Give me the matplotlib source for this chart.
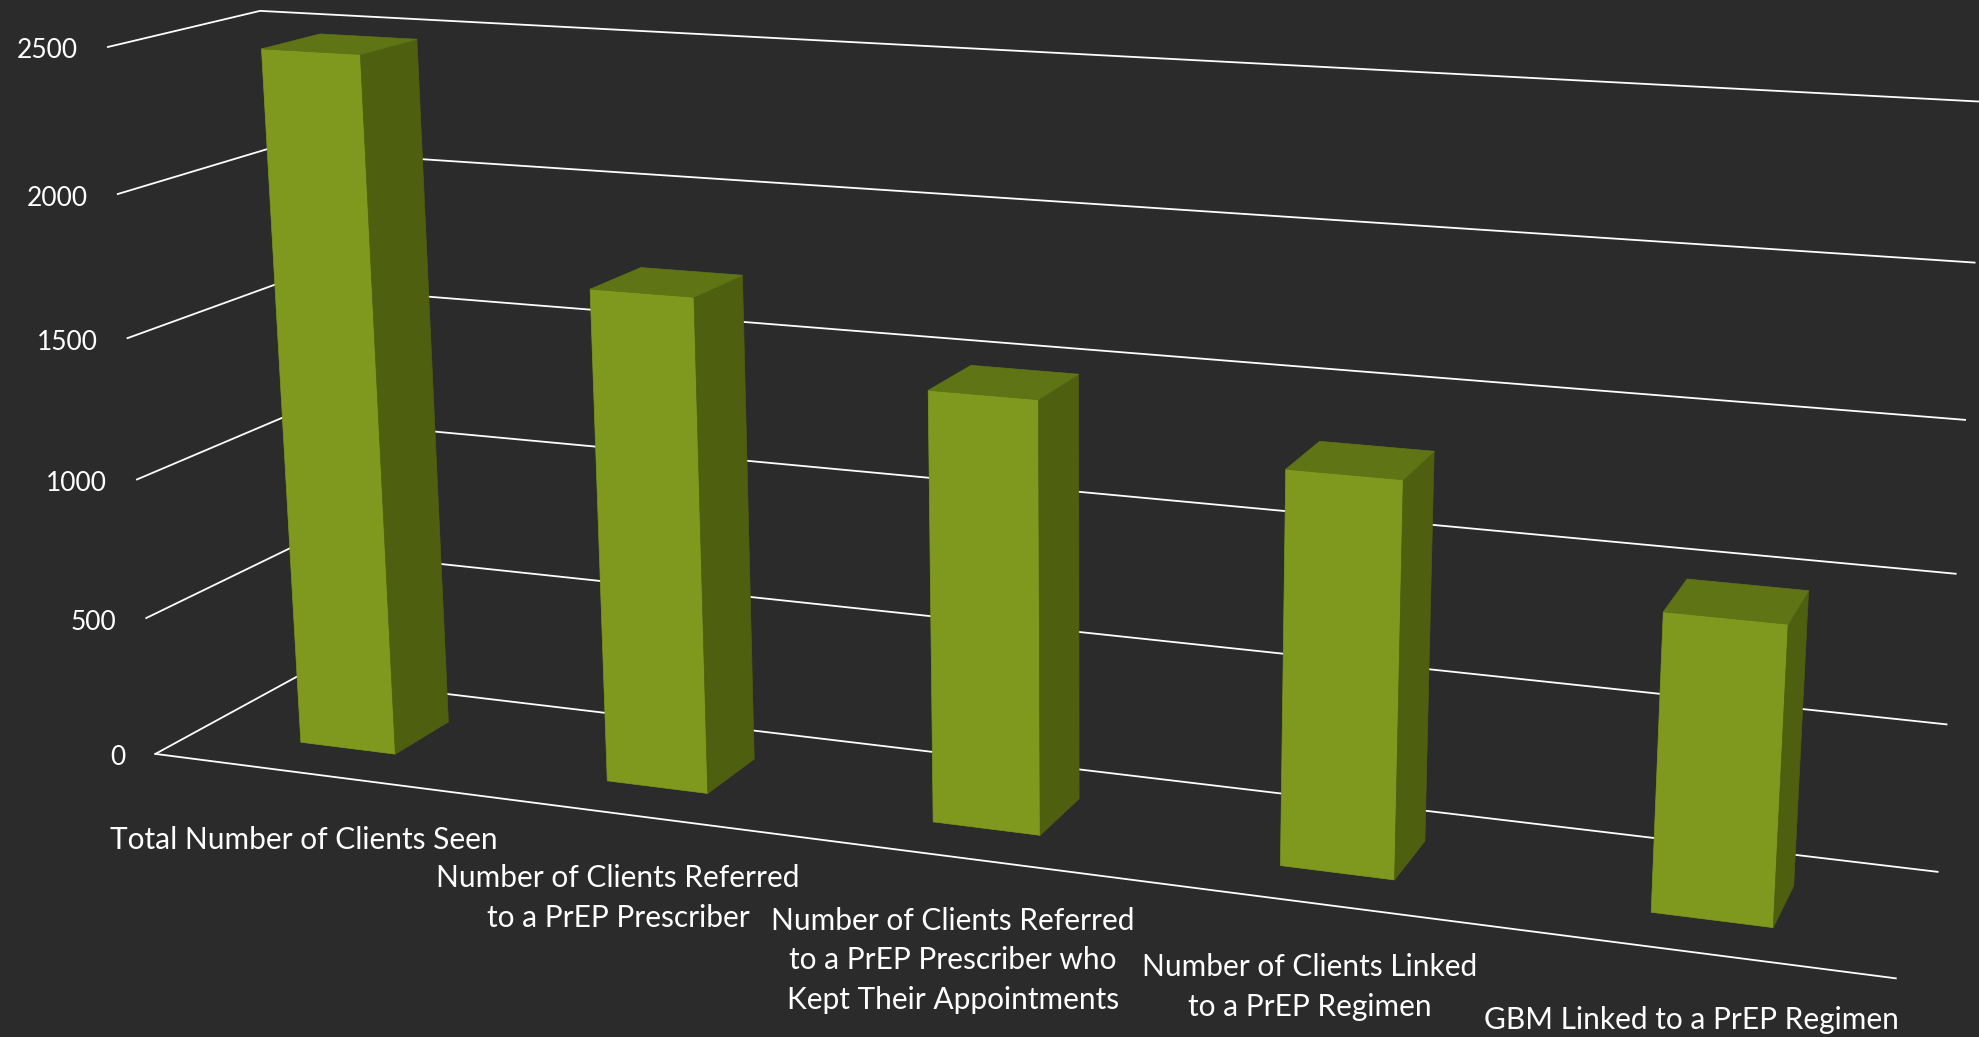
import matplotlib
matplotlib.use('Agg')
import matplotlib.pyplot as plt
import numpy as np

# bar values
categories = [
    'Total Number of Clients Seen',
    'Number of Clients Referred\nto a PrEP Prescriber',
    'Number of Clients Referred\nto a PrEP Prescriber who\nKept Their Appointments',
    'Number of Clients Linked\nto a PrEP Regimen',
    'GBM Linked to a PrEP Regimen',
]
values = [2475, 1731, 1483, 1326, 982]
y_ticks = [0, 500, 1000, 1500, 2000, 2500]

W, H = 1979, 1037
BG = '#2b2b2b'
FRONT, SIDE, TOP = '#7e991e', '#4f5f10', '#5f7515'

# box corners (category, value, depth) -> pixel, used to fit the camera
world = np.array([
    [0, 0, 0], [5, 0, 0], [0, 2500, 0], [0, 2000, 0], [0, 0, 1],
    [0, 2500, 1], [5, 0, 1], [5, 500, 1], [5, 1000, 1], [5, 2500, 1],
], dtype=float)
pixel = np.array([
    [155, 755], [1896, 977], [108, 47], [118, 194], [298, 675],
    [260, 11], [1937, 872], [1947, 725], [1956, 575], [1984, 101],
], dtype=float)

# rescale value so the fit is well conditioned
rows = []
for (x, y, z), (u, v) in zip(world, pixel):
    p = [x, y / 500, z, 1]
    rows.append(p + [0, 0, 0, 0] + [-u * c for c in p])
    rows.append([0, 0, 0, 0] + p + [-v * c for c in p])
cam = np.linalg.svd(np.array(rows))[2][-1].reshape(3, 4)


def project(x, y, z):
    q = cam @ np.array([x, y / 500, z, 1.0])
    return q[0] / q[2], q[1] / q[2]


def face(ax, pts, color):
    ax.fill(*zip(*[project(*p) for p in pts]), color=color, lw=0.5, zorder=3)


fig = plt.figure(figsize=(W / 100, H / 100), dpi=100, facecolor=BG)
ax = fig.add_axes([0, 0, 1, 1])
ax.set_xlim(0, W)
ax.set_ylim(H, 0)
ax.axis('off')

# walls and floor edge
for t in y_ticks:
    a, b, c = project(0, t, 0), project(0, t, 1), project(5, t, 1)
    ax.plot([a[0], b[0], c[0]], [a[1], b[1], c[1]], color='white', lw=1.3, zorder=1)
    ax.text(a[0] - 30, a[1] + 4, str(t), color='white', fontsize=19, family='Lato',
            ha='right', va='center')
a, b = project(0, 0, 0), project(5, 0, 0)
ax.plot([a[0], b[0]], [a[1], b[1]], color='white', lw=1.3, zorder=1)

# bars
for i, val in enumerate(values):
    x0, x1 = i + 0.3425, i + 0.6575
    z0, z1 = 0.3, 0.7
    face(ax, [(x0, 0, z0), (x1, 0, z0), (x1, val, z0), (x0, val, z0)], FRONT)
    face(ax, [(x1, 0, z0), (x1, 0, z1), (x1, val, z1), (x1, val, z0)], SIDE)
    face(ax, [(x0, val, z0), (x1, val, z0), (x1, val, z1), (x0, val, z1)], TOP)

# category labels, placed by hand like the original
label_pos = [(304, 840), (618, 898), (953, 960), (1310, 987), (1691, 1020)]
for lab, (px, py) in zip(categories, label_pos):
    ax.text(px, py, lab, color='white', fontsize=21.5, family='Lato',
            ha='center', va='center', linespacing=1.5)

fig.savefig('out.png', dpi=100, facecolor=BG)
